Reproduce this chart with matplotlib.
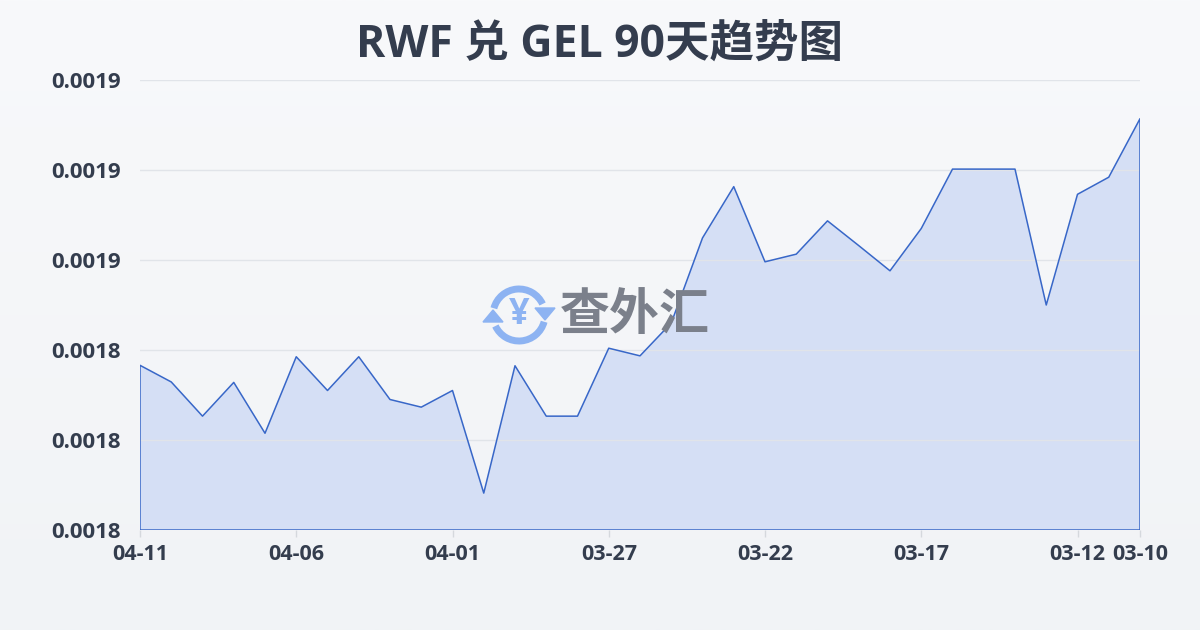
import numpy as np
import matplotlib.pyplot as plt
from matplotlib.patches import Arc, Polygon
from matplotlib.ticker import FormatStrFormatter

plt.rcParams['font.family'] = ['Open Sans', 'Noto Sans CJK SC', 'DejaVu Sans']

dates = ["04-11", "04-10", "04-09", "04-08", "04-07", "04-06", "04-05", "04-04",
         "04-03", "04-02", "04-01", "03-31", "03-30", "03-29", "03-28", "03-27",
         "03-26", "03-25", "03-24", "03-23", "03-22", "03-21", "03-20", "03-19",
         "03-18", "03-17", "03-16", "03-15", "03-14", "03-13", "03-12", "03-11",
         "03-10"]
rates = [0.0018366, 0.0018329, 0.0018253, 0.0018328, 0.0018215, 0.0018385,
         0.0018310, 0.0018385, 0.0018290, 0.0018273, 0.0018310, 0.0018082,
         0.0018365, 0.0018253, 0.0018253, 0.0018404, 0.0018387, 0.0018460,
         0.0018649, 0.0018763, 0.0018596, 0.0018613, 0.0018687, 0.0018632,
         0.0018576, 0.0018670, 0.0018802, 0.0018802, 0.0018802, 0.0018500,
         0.0018746, 0.0018784, 0.0018914]
tick_idx = [0, 5, 10, 15, 20, 25, 30, 32]
y_ticks = [0.00180, 0.00182, 0.00184, 0.00186, 0.00188, 0.00190]

text_color = "#343d4e"
line_color = "#3867c8"
fill_color = "#d5dff5"

fig = plt.figure(figsize=(12, 6.3), dpi=100)

# soft vertical gradient background
bg = fig.add_axes([0, 0, 1, 1], zorder=-10)
grad = np.linspace(0, 1, 256).reshape(-1, 1)
top = np.array([0xf8, 0xf9, 0xfb]) / 255
bot = np.array([0xf1, 0xf3, 0xf6]) / 255
bg.imshow(top + grad[..., None] * (bot - top), aspect='auto', extent=[0, 1, 0, 1])
bg.axis('off')

ax = fig.add_axes([140 / 1200, 100 / 630, 1000 / 1200, 450 / 630])
x = np.arange(len(rates))
ax.fill_between(x, rates, y_ticks[0], facecolor=fill_color, edgecolor='none', zorder=1)
ax.fill_between(x, rates, y_ticks[0], facecolor='none', edgecolor=line_color, lw=1.1, zorder=4)

ax.set_xlim(0, len(rates) - 1)
ax.set_ylim(y_ticks[0], y_ticks[-1])
ax.set_yticks(y_ticks)
ax.yaxis.set_major_formatter(FormatStrFormatter('%.4f'))
ax.set_xticks(tick_idx)
ax.set_xticklabels([dates[i] for i in tick_idx])
ax.grid(axis='y', color='#e1e4e9', lw=1, zorder=0)
for s in ax.spines.values():
    s.set_visible(False)
ax.tick_params(axis='y', length=0, pad=14, labelsize=16, labelcolor=text_color)
ax.tick_params(axis='x', length=5, width=1, color='#d5d8dd', pad=5, labelsize=15.5,
               labelcolor=text_color)
for lab in ax.get_xticklabels() + ax.get_yticklabels():
    lab.set_fontweight('bold')

fig.text(0.5, 1 - 45 / 630, "RWF 兑 GEL 90天趋势图", ha='center', va='center',
         fontsize=32, fontweight='bold', color=text_color)

# watermark
fig.text(560 / 1200, 1 - 315 / 630, "查外汇", ha='left', va='center', fontsize=36,
         fontweight='bold', color='#7b808b', family=['Noto Sans CJK SC'], zorder=3)
icon = "#8db3f2"
cx, cy, r = 519, 630 - 315, 26
wm = fig.add_axes([0, 0, 1, 1], zorder=3)
wm.set_xlim(0, 1200)
wm.set_ylim(0, 630)
wm.axis('off')
wm.add_patch(Arc((cx, cy), 2 * r, 2 * r, theta1=25, theta2=165, lw=5, color=icon))
wm.add_patch(Arc((cx, cy), 2 * r, 2 * r, theta1=205, theta2=345, lw=5, color=icon))
wm.add_patch(Polygon([[cx + r - 10, cy + 7], [cx + r + 10, cy + 7], [cx + r, cy - 5]],
                     color=icon))
wm.add_patch(Polygon([[cx - r - 10, cy - 7], [cx - r + 10, cy - 7], [cx - r, cy + 5]],
                     color=icon))
wm.text(cx, cy, "¥", ha='center', va='center', fontsize=26, fontweight='bold', color=icon)
ax.set_zorder(2)
ax.patch.set_visible(False)

fig.savefig("out.png", dpi=100)
